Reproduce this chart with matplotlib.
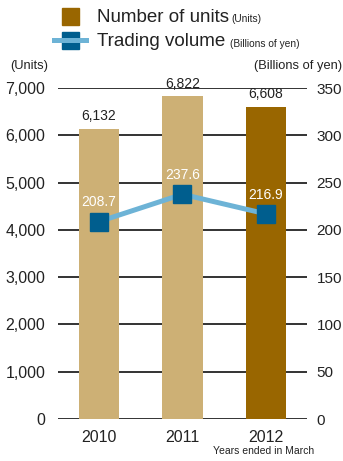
import numpy as np
import matplotlib
matplotlib.use("Agg")
import matplotlib.pyplot as plt
from matplotlib.patches import Rectangle
from matplotlib.lines import Line2D

plt.rcParams['font.family'] = ['Liberation Sans', 'DejaVu Sans']

years = ['2010', '2011', '2012']
units = [6132, 6822, 6608]
volume = [208.7, 237.6, 216.9]

tan = '#CDB075'
brown = '#996600'
line_blue = '#6DB3D6'
marker_blue = '#005E8E'

W, H = 343, 461
fig = plt.figure(figsize=(W / 100, H / 100), dpi=100)
ax = fig.add_axes([58 / W, 42 / H, 249 / W, 331 / H])
ax2 = ax.twinx()

x = np.arange(len(years))
colors = [tan, tan, brown]
ax.bar(x, units, width=0.48, color=colors, zorder=2)
for xi, u in zip(x, units):
    ax.text(xi, u + 120, f"{u:,}", ha='center', va='bottom', fontsize=10, color='#222222')

ax.set_ylim(0, 7000)
ax.set_xlim(-0.49, 2.49)
ax.set_yticks(range(0, 7001, 1000))
ax.set_yticklabels([f"{v:,}" for v in range(0, 7001, 1000)])
ax.yaxis.grid(True, color='#111111', linewidth=1.2, zorder=0)
ax.set_axisbelow(True)
ax.set_xticks(x)
ax.set_xticklabels(years)
ax.tick_params(axis='both', length=0, labelsize=11.5, colors='#222222')
ax.tick_params(axis='y', pad=9)
ax.tick_params(axis='x', pad=8)
for s in ax.spines.values():
    s.set_visible(False)

ax2.plot(x, volume, color=line_blue, linewidth=3.6, zorder=3)
ax2.plot(x, volume, linestyle='none', marker='s', markersize=12.5,
         color=marker_blue, zorder=4)
for xi, v in zip(x, volume):
    ax2.text(xi, v + 13, f"{v}", ha='center', va='bottom', fontsize=10, color='white', zorder=5)
ax2.set_ylim(0, 350)
ax2.set_yticks(range(0, 351, 50))
ax2.tick_params(axis='y', length=0, labelsize=11, colors='#222222', pad=7)
for s in ax2.spines.values():
    s.set_visible(False)

# legend drawn in figure pixel coordinates
def fx(px):
    return px / W

def fy(py):
    return 1 - py / H

fig.add_artist(Rectangle((fx(62), fy(25)), 17 / W, 17 / H, color=brown,
                         transform=fig.transFigure))
fig.add_artist(Line2D([fx(54), fx(86)], [fy(40.5), fy(40.5)], color=line_blue,
                      linewidth=3.6, transform=fig.transFigure))
fig.add_artist(Rectangle((fx(62), fy(49)), 17 / W, 17 / H, color=marker_blue,
                         transform=fig.transFigure))
fig.text(fx(97), fy(17), "Number of units", fontsize=13.5, va='center', color='#222222')
fig.text(fx(97), fy(42), "Trading volume", fontsize=13.5, va='center', color='#222222')
fig.text(fx(231), fy(19), "(Units)", fontsize=7.3, va='center', color='#222222')
fig.text(fx(230), fy(44), "(Billions of yen)", fontsize=7.3, va='center', color='#222222')

fig.text(fx(48), fy(66), "(Units)", fontsize=9.3, ha='right', va='center', color='#222222')
fig.text(fx(342), fy(66), "(Billions of yen)", fontsize=9.3, ha='right', va='center', color='#222222')
fig.text(fx(314), fy(451), "Years ended in March", fontsize=7.5, ha='right', va='center', color='#222222')

fig.savefig("out.png", dpi=100)
